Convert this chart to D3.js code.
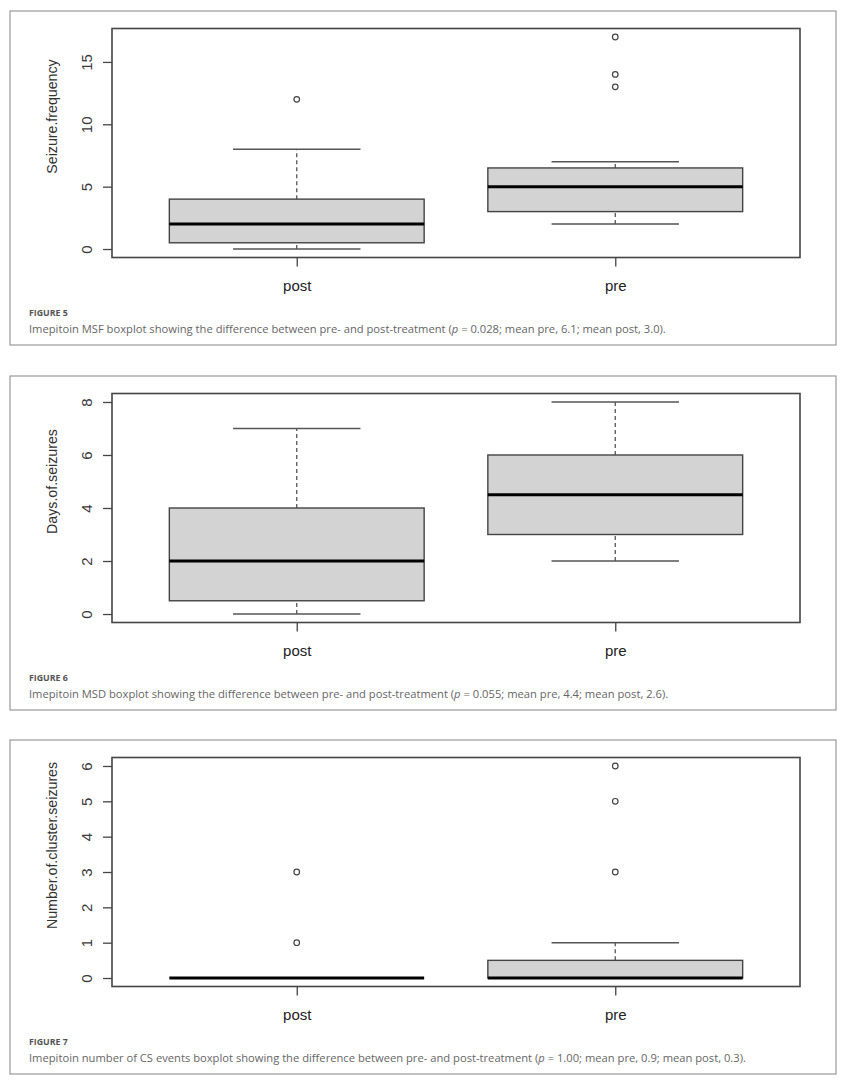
<html>

<head>
    <title>Imepitoin boxplots</title>
    <script src="https://d3js.org/d3.v7.min.js"></script>
    <style>
        body { margin: 0; background: #fff; }
    </style>
</head>

<body>
    <script>
        // groups on the x axis
        const groups = ['post', 'pre']

        // five-number summaries: [lower whisker, q1, median, q3, upper whisker]
        const msfPost = [0, 0.5, 2, 4, 8]
        const msfPre = [2, 3, 5, 6.5, 7]
        const msfPostOut = [12]
        const msfPreOut = [13, 14, 17]
        const msfTicks = [0, 5, 10, 15]

        const msdPost = [0, 0.5, 2, 4, 7]
        const msdPre = [2, 3, 4.5, 6, 8]
        const msdPostOut = []
        const msdPreOut = []
        const msdTicks = [0, 2, 4, 6, 8]

        const csPost = [0, 0, 0, 0, 0]
        const csPre = [0, 0, 0, 0.5, 1]
        const csPostOut = [1, 3]
        const csPreOut = [3, 5, 6]
        const csTicks = [0, 1, 2, 3, 4, 5, 6]

        const yTitles = ['Seizure.frequency', 'Days.of.seizures', 'Number.of.cluster.seizures']
        const figLabels = ['FIGURE 5', 'FIGURE 6', 'FIGURE 7']
        const captions = [
            ['Imepitoin MSF boxplot showing the difference between pre- and post-treatment (', 'p', ' = 0.028; mean pre, 6.1; mean post, 3.0).'],
            ['Imepitoin MSD boxplot showing the difference between pre- and post-treatment (', 'p', ' = 0.055; mean pre, 4.4; mean post, 2.6).'],
            ['Imepitoin number of CS events boxplot showing the difference between pre- and post-treatment (', 'p', ' = 1.00; mean pre, 0.9; mean post, 0.3).']
        ]

        const panels = [
            { stats: [msfPost, msfPre], out: [msfPostOut, msfPreOut], ticks: msfTicks },
            { stats: [msdPost, msdPre], out: [msdPostOut, msdPreOut], ticks: msdTicks },
            { stats: [csPost, csPre], out: [csPostOut, csPreOut], ticks: csTicks }
        ]

        const width = 850
        const height = 1085
        const frameTops = [11, 376, 740]
        const frameHeight = 334
        const plotLeft = 112
        const plotRight = 800
        const plotOffset = 17.5
        const plotHeight = 229

        const svg = d3.select('body').append('svg')
            .attr('width', width)
            .attr('height', height)

        // R style x scale: xlim 0.5..n+0.5 extended by 4%
        const x = d3.scaleLinear()
            .domain([0.5 - 0.08, groups.length + 0.5 + 0.08])
            .range([plotLeft, plotRight])
        const boxHalf = (x(1.4) - x(1))
        const capHalf = boxHalf / 2

        panels.forEach((p, k) => {
            const top = frameTops[k]
            const g = svg.append('g').attr('transform', `translate(0, ${top})`)

            g.append('rect')
                .attr('x', 10).attr('y', 0)
                .attr('width', 826).attr('height', frameHeight)
                .attr('fill', 'none')
                .attr('stroke', '#9a9a9a')
                .attr('stroke-width', 1.2)

            const all = p.stats.flat().concat(p.out.flat())
            const lo = d3.min(all), hi = d3.max(all)
            const ext = (hi - lo) * 0.04
            const y = d3.scaleLinear()
                .domain([lo - ext, hi + ext])
                .range([plotOffset + plotHeight, plotOffset])

            // y axis
            const yAxis = g.append('g')
                .attr('transform', `translate(${plotLeft}, 0)`)
                .call(d3.axisLeft(y).tickValues(p.ticks).tickFormat(d3.format('d'))
                    .tickSize(9).tickSizeOuter(0))
            yAxis.select('.domain').remove()
            yAxis.selectAll('line').attr('stroke', '#444').attr('stroke-width', 1.3)
            yAxis.selectAll('text')
                .attr('x', 0).attr('dy', null)
                .attr('text-anchor', 'middle')
                .attr('dominant-baseline', 'central')
                .attr('transform', 'translate(-26, 0) rotate(-90)')
                .attr('font-family', 'Liberation Sans, Arial, sans-serif')
                .attr('font-size', '15px')
                .attr('fill', '#3a3a3a')

            // x axis
            const xAxis = g.append('g')
                .attr('transform', `translate(0, ${plotOffset + plotHeight})`)
                .call(d3.axisBottom(x).tickValues(groups.map((d, i) => i + 1))
                    .tickFormat(i => groups[i - 1]).tickSize(9).tickSizeOuter(0))
            xAxis.select('.domain').remove()
            xAxis.selectAll('line').attr('stroke', '#444').attr('stroke-width', 1.3)
            xAxis.selectAll('text')
                .attr('y', 28).attr('dy', null)
                .attr('dominant-baseline', 'central')
                .attr('font-family', 'Liberation Sans, Arial, sans-serif')
                .attr('font-size', '15px')
                .attr('fill', '#222')

            // y title
            g.append('text')
                .attr('transform', `translate(52, ${plotOffset + 88}) rotate(-90)`)
                .attr('text-anchor', 'middle')
                .attr('dominant-baseline', 'central')
                .attr('font-family', 'Liberation Sans, Arial, sans-serif')
                .attr('font-size', '14.2px')
                .attr('fill', '#333')
                .text(yTitles[k])

            // boxes
            p.stats.forEach((s, i) => {
                const cx = x(i + 1)
                const bg = g.append('g')
                // whiskers, dashed
                bg.selectAll('.whisk')
                    .data([[s[0], s[1]], [s[3], s[4]]])
                    .enter()
                    .append('line')
                    .attr('x1', cx).attr('x2', cx)
                    .attr('y1', d => y(d[0])).attr('y2', d => y(d[1]))
                    .attr('stroke', '#555')
                    .attr('stroke-width', 1.3)
                    .attr('stroke-dasharray', '4,3')
                // caps
                bg.selectAll('.cap')
                    .data([s[0], s[4]])
                    .enter()
                    .append('line')
                    .attr('x1', cx - capHalf).attr('x2', cx + capHalf)
                    .attr('y1', d => y(d)).attr('y2', d => y(d))
                    .attr('stroke', '#555')
                    .attr('stroke-width', 1.4)
                // box
                bg.append('rect')
                    .attr('x', cx - boxHalf)
                    .attr('y', y(s[3]))
                    .attr('width', boxHalf * 2)
                    .attr('height', y(s[1]) - y(s[3]))
                    .attr('fill', '#d3d3d3')
                    .attr('stroke', '#444')
                    .attr('stroke-width', 1.4)
                // median
                bg.append('line')
                    .attr('x1', cx - boxHalf).attr('x2', cx + boxHalf)
                    .attr('y1', y(s[2])).attr('y2', y(s[2]))
                    .attr('stroke', '#000')
                    .attr('stroke-width', 3)
                // outliers
                bg.selectAll('circle')
                    .data(p.out[i])
                    .enter()
                    .append('circle')
                    .attr('cx', cx)
                    .attr('cy', d => y(d))
                    .attr('r', 2.8)
                    .attr('fill', '#fff')
                    .attr('stroke', '#444')
                    .attr('stroke-width', 1.2)
            })

            // plot box
            g.append('rect')
                .attr('x', plotLeft).attr('y', plotOffset)
                .attr('width', plotRight - plotLeft).attr('height', plotHeight)
                .attr('fill', 'none')
                .attr('stroke', '#444')
                .attr('stroke-width', 1.6)

            // caption
            const capY = plotOffset + plotHeight
            g.append('text')
                .attr('x', 29).attr('y', capY + 55)
                .attr('dominant-baseline', 'central')
                .attr('font-family', 'Open Sans, sans-serif')
                .attr('font-weight', 'bold')
                .attr('font-size', '8.8px')
                .attr('fill', '#555')
                .text(figLabels[k])

            const cap = g.append('text')
                .attr('x', 29).attr('y', capY + 70)
                .attr('dominant-baseline', 'central')
                .attr('font-family', 'Open Sans, sans-serif')
                .attr('font-size', '11.2px')
                .attr('fill', '#666')
            cap.selectAll('tspan')
                .data(captions[k])
                .enter()
                .append('tspan')
                .attr('font-style', (d, i) => i === 1 ? 'italic' : 'normal')
                .text(d => d)
        })
    </script>
</body>

</html>
